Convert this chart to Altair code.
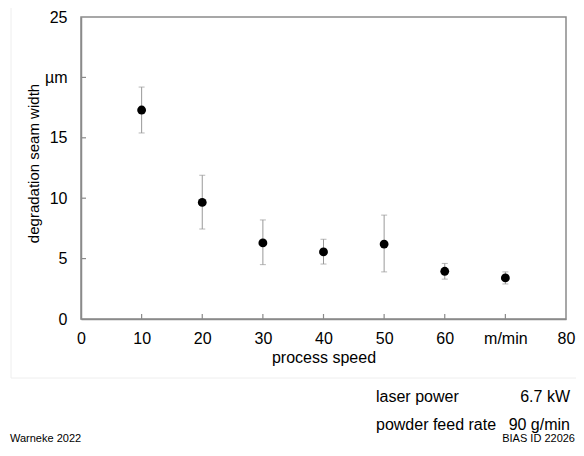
import altair as alt
import pandas as pd

speed = [10, 20, 30, 40, 50, 60, 70]
seam_width = [17.3, 9.65, 6.3, 5.55, 6.2, 3.95, 3.4]
err_low = [15.4, 7.45, 4.5, 4.55, 3.9, 3.3, 2.9]
err_high = [19.2, 11.9, 8.2, 6.6, 8.6, 4.6, 3.9]

x_ticks = [0, 10, 20, 30, 40, 50, 60, 70, 80]
y_ticks = [0, 5, 10, 15, 20, 25]
x_inner_ticks = [10, 20, 30, 40, 50, 60, 70]
y_inner_ticks = [5, 10, 15, 20]

param_names = ["laser power", "powder feed rate"]
param_values = ["6.7 kW", "90 g/min"]
footer_left = "Warneke 2022"
footer_right = "BIAS ID 22026"

W, H = 485, 302
FONT = "Liberation Sans"
AX = "#8a8a8a"

df = pd.DataFrame({"speed": speed, "w": seam_width, "lo": err_low, "hi": err_high})

xs = alt.Scale(domain=[0, 80], nice=False)
ys = alt.Scale(domain=[0, 25], nice=False)

x_axis = alt.Axis(values=x_ticks, labelExpr="datum.value == 70 ? 'm/min' : datum.label",
                  tickSize=0, labelPadding=11, grid=False, title="process speed",
                  titlePadding=3, domainColor=AX, domainWidth=1.5, labelFlush=False)
y_axis = alt.Axis(values=y_ticks, labelExpr="datum.value == 20 ? 'µm' : datum.label",
                  tickSize=0, labelPadding=14, grid=False, title="degradation seam width",
                  titlePadding=3, titleFontSize=15, titleY=146,
                  domainColor=AX, domainWidth=1.5, labelFlush=False)

base = alt.Chart(df)

points = base.mark_circle(size=78, color="black", opacity=1).encode(
    x=alt.X("speed:Q", scale=xs, axis=x_axis),
    y=alt.Y("w:Q", scale=ys, axis=y_axis),
)
bars = base.mark_rule(color="#999999", strokeWidth=1).encode(
    x="speed:Q", y="lo:Q", y2="hi:Q")
cap_lo = base.mark_tick(color="#999999", thickness=1, size=6, orient="horizontal").encode(
    x="speed:Q", y="lo:Q")
cap_hi = base.mark_tick(color="#999999", thickness=1, size=6, orient="horizontal").encode(
    x="speed:Q", y="hi:Q")

xt = alt.Chart(pd.DataFrame({"t": x_inner_ticks})).mark_rule(color=AX, strokeWidth=1.2).encode(
    x=alt.X("t:Q", scale=xs), y=alt.value(H), y2=alt.value(H - 5))
yt = alt.Chart(pd.DataFrame({"t": y_inner_ticks})).mark_rule(color=AX, strokeWidth=1.2).encode(
    y=alt.Y("t:Q", scale=ys), x=alt.value(0), x2=alt.value(5))

frame_l = alt.Chart(pd.DataFrame({"a": [0]})).mark_rule(color="#eeeeee", strokeWidth=1).encode(
    x=alt.value(-70), y=alt.value(-17), y2=alt.value(361))
frame_b = alt.Chart(pd.DataFrame({"a": [0]})).mark_rule(color="#eeeeee", strokeWidth=1).encode(
    x=alt.value(-70), x2=alt.value(503), y=alt.value(361))

pdf = pd.DataFrame({"n": param_names, "v": param_values, "yy": [380, 408]})
pnames = alt.Chart(pdf).mark_text(font=FONT, fontSize=16, align="left", baseline="middle", color="black").encode(
    x=alt.value(295), y=alt.Y("yy:Q", scale=None), text="n:N")
pvals = alt.Chart(pdf).mark_text(font=FONT, fontSize=16, align="right", baseline="middle", color="black").encode(
    x=alt.value(489), y=alt.Y("yy:Q", scale=None), text="v:N")

fdf = pd.DataFrame({"t": [footer_left], "yy": [422]})
fl = alt.Chart(fdf).mark_text(font=FONT, fontSize=11, align="left", baseline="middle", color="black").encode(
    x=alt.value(-71), y=alt.Y("yy:Q", scale=None), text="t:N")
fdf2 = pd.DataFrame({"t": [footer_right], "yy": [422]})
fr = alt.Chart(fdf2).mark_text(font=FONT, fontSize=11, align="right", baseline="middle", color="black").encode(
    x=alt.value(494), y=alt.Y("yy:Q", scale=None), text="t:N")

chart = alt.layer(frame_l, frame_b, bars, cap_lo, cap_hi, xt, yt, points, pnames, pvals, fl, fr).properties(
    width=W, height=H,
    autosize=alt.AutoSizeParams(type="none"),
    padding={"left": 73, "top": 9, "right": 10, "bottom": 126},
).configure_view(stroke=AX, strokeWidth=1.5).configure_axis(
    labelFont=FONT, titleFont=FONT, labelFontSize=16, titleFontSize=16,
    labelColor="black", titleColor="black", titleFontWeight="normal",
)

chart.save("out.html", embed_options={"renderer": "svg", "actions": False})
